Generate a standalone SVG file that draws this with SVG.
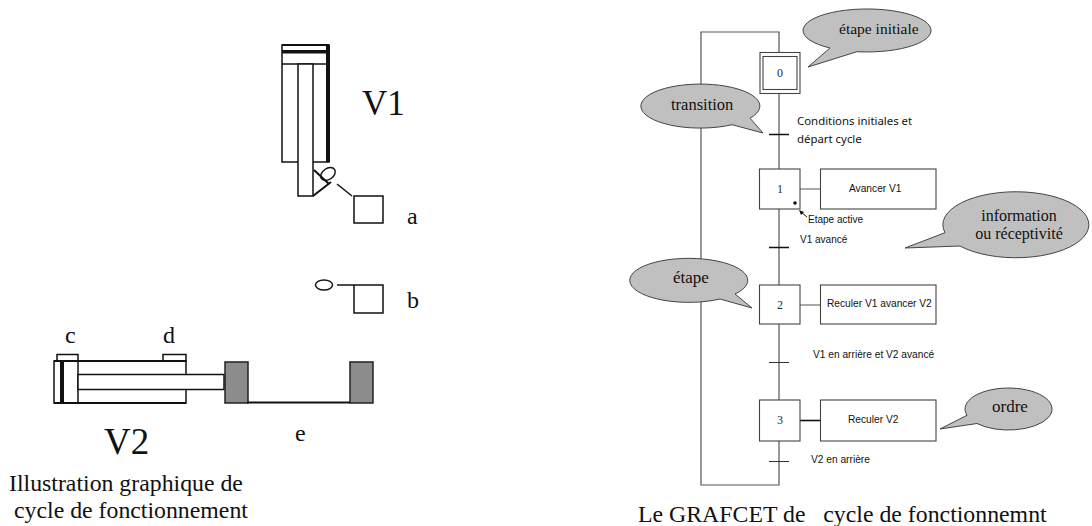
<svg xmlns="http://www.w3.org/2000/svg" width="1092" height="526" viewBox="0 0 1092 526">
<style>
.k{fill:none;stroke:#111;stroke-width:1.5}
.w{fill:#fff;stroke:#111;stroke-width:1.5}
.t{fill:#111;stroke:none}
.g{fill:#8c8c8c;stroke:#222;stroke-width:1.5}
.s{fill:#fff;stroke:#444;stroke-width:1.1}
.l{fill:none;stroke:#555;stroke-width:1.2}
.b{fill:none;stroke:#111;stroke-width:1.6}
.c{fill:#c0c0c0;stroke:#444;stroke-width:1}
.ser{font-family:"Liberation Serif",serif;fill:#111}
.san{font-family:"Liberation Sans",sans-serif;fill:#111;font-size:10.2px}
.num{font-family:"Liberation Serif",serif;fill:#1d2b45;font-size:12px;text-anchor:middle}
</style>
<g id="verin-v1">
<rect class="w" x="282" y="45" width="47" height="117"/>
<rect class="t" x="282" y="44" width="47" height="2"/>
<rect class="t" x="282" y="50" width="47" height="3.500"/>
<line class="k" x1="282" y1="64" x2="329" y2="64"/>
<rect class="t" x="326" y="45" width="4" height="117"/>
<rect class="w" x="298" y="64" width="15" height="132"/>
<ellipse class="k" cx="328" cy="174" rx="8" ry="5.500" transform="rotate(-35 328 174)"/>
<path class="k" d="M313 196L331 182M314 170L329 184" style="stroke-width:2"/>
</g>
<g id="capteur-a">
<line class="k" x1="337" y1="184" x2="352" y2="196"/>
<rect class="k" x="354" y="196" width="29" height="27"/>
</g>
<g id="capteur-b">
<ellipse class="k" cx="324" cy="285" rx="8.500" ry="5"/>
<path class="k" d="M337 285H383V313H354V285"/>
</g>
<g id="verin-v2">
<rect class="w" x="54" y="361" width="132" height="42"/>
<rect class="w" x="57" y="354.500" width="21" height="6.500"/>
<rect class="w" x="163" y="354.500" width="23" height="6.500"/>
<rect class="t" x="60" y="361" width="4" height="42"/>
<line class="k" x1="78" y1="361" x2="78" y2="403"/>
<rect class="w" x="78" y="374.500" width="146" height="15"/>
<path class="k" d="M54 361H186M54 403H186" style="stroke-width:2"/>
</g>
<g id="chariot">
<rect class="g" x="225" y="362" width="23" height="41"/>
<rect class="g" x="350" y="362" width="23" height="41"/>
<line class="k" x1="247" y1="402.500" x2="350" y2="402.500" style="stroke-width:2.200"/>
</g>
<g id="connecteurs">
<path class="l" d="M779 52V32H701V485H779V441"/>
<path class="l" d="M779 93V169M779 209V285M779 324V400"/>
<path class="l" d="M800 189H821M800 305H821"/>
<path class="b" d="M800 420.500H821"/>
<path class="b" d="M769 134.500H789M769 247.500H789"/>
<path class="l" d="M769 362.500H789M769 461.500H789" style="stroke:#333"/>
<path class="k" d="M807 217L801 212" style="stroke-width:1"/>
<path class="t" d="M799 210L804 212L801 215Z"/>
</g>
<g id="etape-0">
<rect class="s" x="760" y="52.500" width="40" height="41"/>
<rect class="s" x="763" y="56.500" width="34" height="33"/>
<text class="num" x="780" y="77">0</text>
</g>
<g id="etape-1">
<rect class="s" x="759.500" y="169" width="40.500" height="40"/>
<text class="num" x="780" y="193">1</text>
<circle class="t" cx="795" cy="203" r="1.800"/>
</g>
<g id="etape-2">
<rect class="s" x="759.500" y="285" width="40.500" height="39"/>
<text class="num" x="780" y="309">2</text>
</g>
<g id="etape-3">
<rect class="s" x="759.500" y="400" width="40.500" height="41"/>
<text class="num" x="780" y="424">3</text>
</g>
<g id="action-1">
<rect class="s" x="820.500" y="169" width="115.500" height="40"/>
<text class="san" x="849" y="192">Avancer V1</text>
</g>
<g id="action-2">
<rect class="s" x="820.500" y="285" width="115.500" height="39"/>
<text class="san" x="827" y="307">Reculer V1 avancer V2</text>
</g>
<g id="action-3">
<rect class="s" x="820.500" y="400" width="115.500" height="41"/>
<text class="san" x="848" y="423">Reculer V2</text>
</g>
<g id="bulle-etape-initiale">
<path class="c" d="M830 48A64 21.500 0 1 1 857 51.700L808 67Z"/>
<text class="ser" x="839" y="34" font-size="15.500">étape initiale</text>
</g>
<g id="bulle-transition">
<path class="c" d="M732 124.700A59.500 22 0 1 1 750 118.200L763 133Z"/>
<text class="ser" x="671" y="110" font-size="16.500">transition</text>
</g>
<g id="bulle-etape">
<path class="c" d="M720 299A59 22 0 1 1 735 294L752 308Z"/>
<text class="ser" x="673" y="283" font-size="17">étape</text>
</g>
<g id="bulle-information">
<path class="c" d="M945 232.700A73 33 0 1 1 960 246L905 248Z"/>
<text class="ser" x="1019" y="221" font-size="16" text-anchor="middle">information</text>
<text class="ser" x="1019" y="239" font-size="16" text-anchor="middle">ou réceptivité</text>
</g>
<g id="bulle-ordre">
<path class="c" d="M967 415.300A43.500 21 0 1 1 977 423.500L940 429Z"/>
<text class="ser" x="992" y="412" font-size="17">ordre</text>
</g>
<g id="textes">
<text class="ser" x="362" y="115" font-size="35">V1</text>
<text class="ser" x="104" y="454" font-size="37">V2</text>
<text class="ser" x="407" y="224" font-size="24">a</text>
<text class="ser" x="407" y="308" font-size="24">b</text>
<text class="ser" x="65" y="343" font-size="24">c</text>
<text class="ser" x="163" y="343" font-size="24">d</text>
<text class="ser" x="295" y="441" font-size="24">e</text>
<text class="ser" x="9" y="491" font-size="23.800">Illustration graphique de</text>
<text class="ser" x="14" y="518" font-size="23.800">cycle de fonctionnement</text>
<text class="ser" x="638" y="522" font-size="23.800" xml:space="preserve">Le GRAFCET de   cycle de fonctionnemnt</text>
<text x="797" y="125" font-family="'Noto Sans',sans-serif" font-size="11.400" fill="#111">Conditions initiales et</text>
<text x="797" y="143" font-family="'Noto Sans',sans-serif" font-size="11.400" fill="#111">départ cycle</text>
<text class="san" x="808" y="223" style="font-size:10px">Etape active</text>
<text class="san" x="800" y="243" style="font-size:10px">V1 avancé</text>
<text class="san" x="813" y="358">V1 en arrière et V2 avancé</text>
<text class="san" x="811" y="463">V2 en arrière</text>
</g>
</svg>
